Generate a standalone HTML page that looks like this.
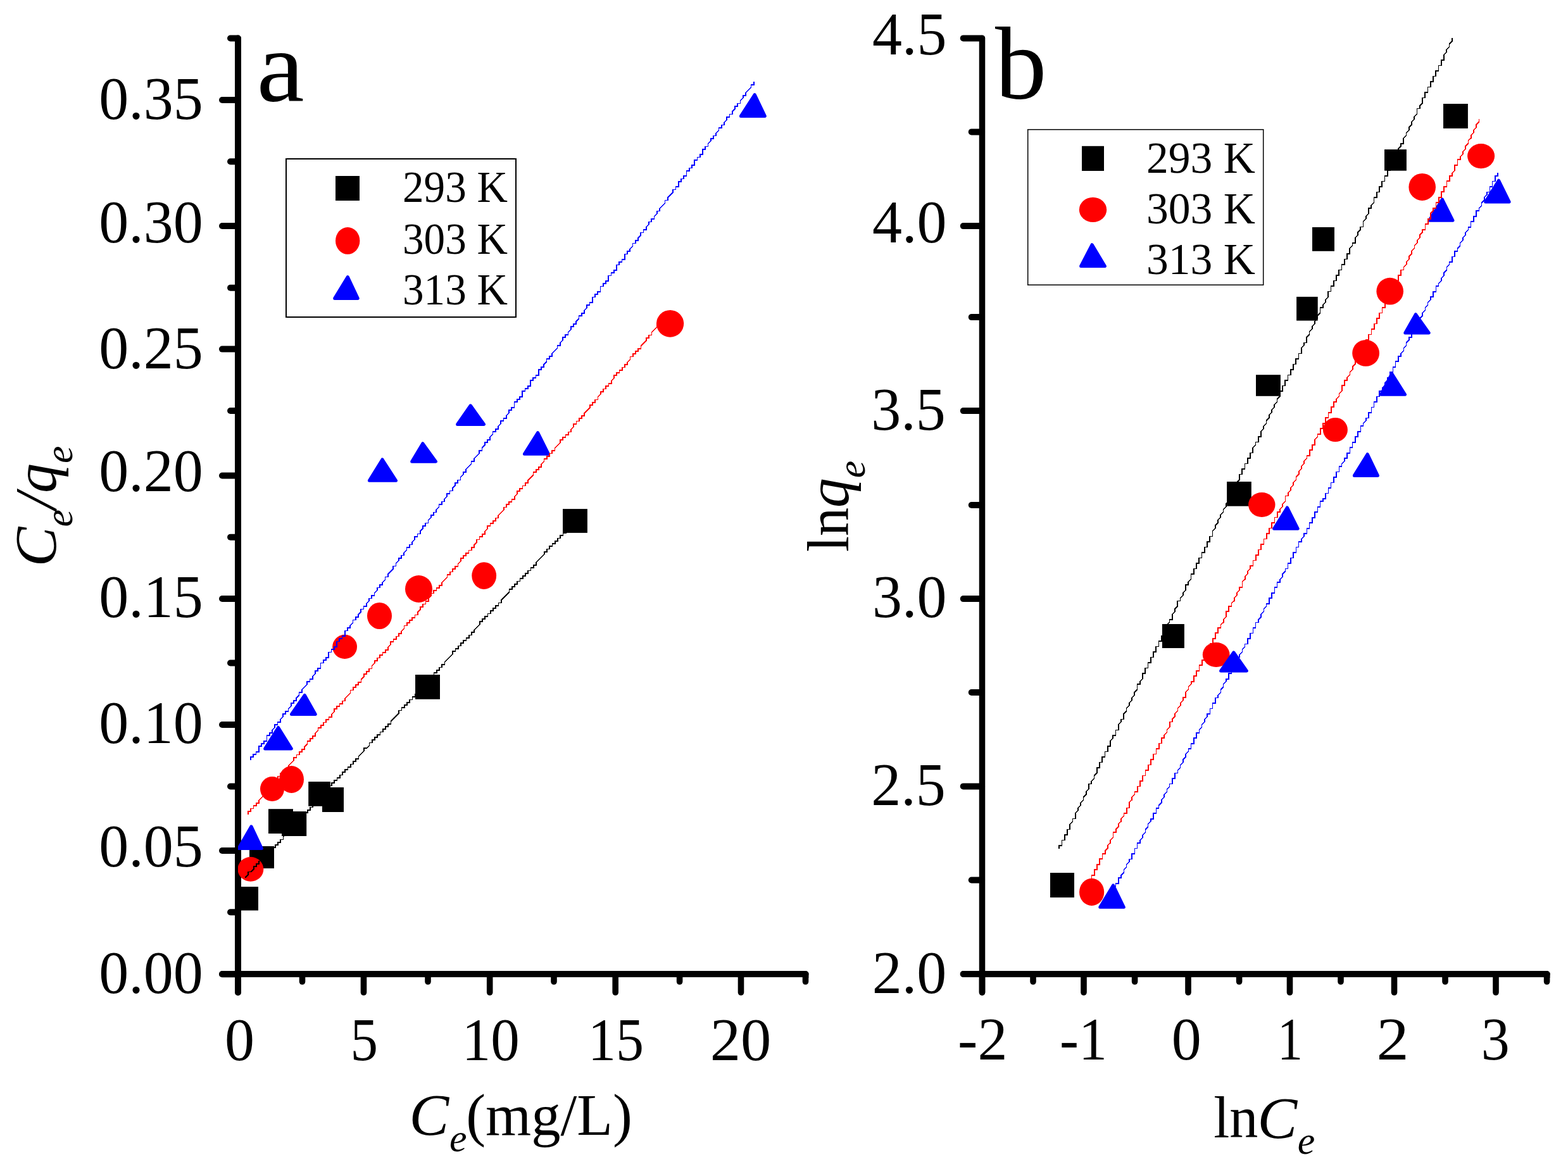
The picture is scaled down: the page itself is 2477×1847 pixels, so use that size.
<!DOCTYPE html>
<html lang="en"><head><meta charset="utf-8"><title>Adsorption isotherm fits</title>
<style>html,body{margin:0;padding:0;background:#fff}body{width:2477px;height:1847px;overflow:hidden}svg{display:block}text{font-family:'Liberation Serif', serif;fill:#000}</style>
</head><body>
<svg width="2477" height="1847" viewBox="0 0 2477 1847">
<rect x="0" y="0" width="2477" height="1847" fill="#fff"/>
<defs><clipPath id="clipA"><rect x="376" y="0" width="1000" height="1600"/></clipPath></defs>
<g>
<line x1="376" y1="60.5" x2="376" y2="1568.0" stroke="#000" stroke-width="10" stroke-linecap="round" />
<line x1="351.0" y1="1539" x2="1272.5" y2="1539" stroke="#000" stroke-width="10" stroke-linecap="round" />
<line x1="375.8" y1="158" x2="351.0" y2="158" stroke="#000" stroke-width="10" stroke-linecap="round" />
<line x1="375.8" y1="357" x2="351.0" y2="357" stroke="#000" stroke-width="10" stroke-linecap="round" />
<line x1="375.8" y1="551.6" x2="351.0" y2="551.6" stroke="#000" stroke-width="10" stroke-linecap="round" />
<line x1="375.8" y1="751.5" x2="351.0" y2="751.5" stroke="#000" stroke-width="10" stroke-linecap="round" />
<line x1="375.8" y1="946" x2="351.0" y2="946" stroke="#000" stroke-width="10" stroke-linecap="round" />
<line x1="375.8" y1="1145" x2="351.0" y2="1145" stroke="#000" stroke-width="10" stroke-linecap="round" />
<line x1="375.8" y1="1344" x2="351.0" y2="1344" stroke="#000" stroke-width="10" stroke-linecap="round" />
<line x1="375.8" y1="1539.2" x2="351.0" y2="1539.2" stroke="#000" stroke-width="10" stroke-linecap="round" />
<line x1="375.8" y1="60.5" x2="364.0" y2="60.5" stroke="#000" stroke-width="10" stroke-linecap="round" />
<line x1="375.8" y1="255.3" x2="364.0" y2="255.3" stroke="#000" stroke-width="10" stroke-linecap="round" />
<line x1="375.8" y1="454.7" x2="364.0" y2="454.7" stroke="#000" stroke-width="10" stroke-linecap="round" />
<line x1="375.8" y1="649" x2="364.0" y2="649" stroke="#000" stroke-width="10" stroke-linecap="round" />
<line x1="375.8" y1="848.7" x2="364.0" y2="848.7" stroke="#000" stroke-width="10" stroke-linecap="round" />
<line x1="375.8" y1="1047.5" x2="364.0" y2="1047.5" stroke="#000" stroke-width="10" stroke-linecap="round" />
<line x1="375.8" y1="1242.5" x2="364.0" y2="1242.5" stroke="#000" stroke-width="10" stroke-linecap="round" />
<line x1="375.8" y1="1441.3" x2="364.0" y2="1441.3" stroke="#000" stroke-width="10" stroke-linecap="round" />
<line x1="376" y1="1539" x2="376" y2="1568.0" stroke="#000" stroke-width="9.6" stroke-linecap="round" />
<line x1="574.5" y1="1539" x2="574.5" y2="1568.0" stroke="#000" stroke-width="9.6" stroke-linecap="round" />
<line x1="773.7" y1="1539" x2="773.7" y2="1568.0" stroke="#000" stroke-width="9.6" stroke-linecap="round" />
<line x1="972.2" y1="1539" x2="972.2" y2="1568.0" stroke="#000" stroke-width="9.6" stroke-linecap="round" />
<line x1="1170.5" y1="1539" x2="1170.5" y2="1568.0" stroke="#000" stroke-width="9.6" stroke-linecap="round" />
<line x1="477.5" y1="1539" x2="477.5" y2="1551.0" stroke="#000" stroke-width="9.6" stroke-linecap="round" />
<line x1="676" y1="1539" x2="676" y2="1551.0" stroke="#000" stroke-width="9.6" stroke-linecap="round" />
<line x1="875" y1="1539" x2="875" y2="1551.0" stroke="#000" stroke-width="9.6" stroke-linecap="round" />
<line x1="1073.6" y1="1539" x2="1073.6" y2="1551.0" stroke="#000" stroke-width="9.6" stroke-linecap="round" />
<line x1="1272.5" y1="1539" x2="1272.5" y2="1551.0" stroke="#000" stroke-width="9.6" stroke-linecap="round" />
<rect x="1272.5" y="1537" width="4.8" height="8" fill="#000"/>
<rect x="374" y="57.5" width="5.8" height="6" fill="#000"/>
</g>
<g clip-path="url(#clipA)">
<rect x="369" y="1401" width="39" height="37.5" fill="#000"/>
<rect x="394" y="1337" width="39" height="35" fill="#000"/>
<rect x="424" y="1278.2" width="39" height="38.8" fill="#000"/>
<rect x="445" y="1282" width="39.2" height="39" fill="#000"/>
<rect x="487.2" y="1235" width="34.8" height="38.8" fill="#000"/>
<rect x="509" y="1244" width="34" height="39" fill="#000"/>
<rect x="656" y="1066" width="39" height="38.8" fill="#000"/>
<rect x="889" y="804.1" width="38.9" height="37.8" fill="#000"/>
<ellipse cx="395.9" cy="1373.3" rx="20.4" ry="19.4" fill="#f00"/>
<ellipse cx="430.0" cy="1246.5" rx="19.0" ry="19.5" fill="#f00"/>
<ellipse cx="460.5" cy="1231.5" rx="19.5" ry="21.5" fill="#f00"/>
<ellipse cx="544.6" cy="1021.9" rx="19.4" ry="19.1" fill="#f00"/>
<ellipse cx="599.5" cy="973.0" rx="19.5" ry="21.0" fill="#f00"/>
<ellipse cx="661.5" cy="930.5" rx="21.5" ry="21.5" fill="#f00"/>
<ellipse cx="764.7" cy="909.6" rx="19.4" ry="21.4" fill="#f00"/>
<ellipse cx="1058.6" cy="511.3" rx="21.6" ry="21.4" fill="#f00"/>
<polygon points="397,1305.8 413.4,1340.5 376.8,1340.5" fill="#00f" stroke="#00f" stroke-width="5.0" stroke-linejoin="round"/>
<polygon points="439.6,1149.5 460.3,1182.9 418.7,1182.9" fill="#00f" stroke="#00f" stroke-width="5.0" stroke-linejoin="round"/>
<polygon points="481.3,1098.5 498.2,1128.5 460.5,1128.5" fill="#00f" stroke="#00f" stroke-width="5.0" stroke-linejoin="round"/>
<polygon points="604,726.0 625.5,759.3 583.4,759.3" fill="#00f" stroke="#00f" stroke-width="5.0" stroke-linejoin="round"/>
<polygon points="667.8,700.7 688.4,729.3 650.7,729.3" fill="#00f" stroke="#00f" stroke-width="5.0" stroke-linejoin="round"/>
<polygon points="743.3,640.8 764.5,670.4 722.6,670.4" fill="#00f" stroke="#00f" stroke-width="5.0" stroke-linejoin="round"/>
<polygon points="849.6,683.7 866.4,717.3 828.4,717.3" fill="#00f" stroke="#00f" stroke-width="5.0" stroke-linejoin="round"/>
<polygon points="1192.2,149.7 1208.3,183.4 1170.4,183.4" fill="#00f" stroke="#00f" stroke-width="5.0" stroke-linejoin="round"/>
<path d="M388 1386 392.2 1381.8 392.2 1377.5 396.5 1377.5 400.8 1373.2 400.8 1369 405 1369 405 1364.8 409.2 1364.8 409.2 1360.5 413.5 1360.5 413.5 1356.2 417.8 1356.2 417.8 1352 422 1352 422 1347.8 426.2 1347.8 426.2 1343.5 430.5 1343.5 430.5 1339.2 434.8 1339.2 434.8 1335 439 1335 439 1330.8 443.2 1330.8 443.2 1326.5 447.5 1326.5 447.5 1322.2 451.8 1318 451.8 1313.8 456 1313.8 460.2 1309.5 460.2 1305.2 464.5 1305.2 464.5 1301 468.8 1301 468.8 1296.8 473 1296.8 473 1292.5 477.2 1292.5 477.2 1288.2 481.5 1288.2 481.5 1284 485.8 1284 485.8 1279.8 490 1279.8 490 1275.5 494.2 1275.5 494.2 1271.2 498.5 1271.2 498.5 1267 502.8 1262.8 507 1262.8 507 1258.5 511.2 1254.2 519.8 1245.8 519.8 1241.5 524 1241.5 524 1237.2 528.2 1237.2 528.2 1233 532.5 1233 532.5 1228.8 536.8 1228.8 536.8 1224.5 541 1224.5 541 1220.2 545.2 1220.2 545.2 1216 549.5 1216 549.5 1211.8 553.8 1211.8 553.8 1207.5 558 1207.5 558 1203.2 562.2 1203.2 562.2 1199 566.5 1199 566.5 1194.8 570.8 1190.5 575 1186.2 575 1182 579.2 1182 583.5 1177.8 583.5 1173.5 587.8 1173.5 587.8 1169.2 592 1169.2 592 1165 596.2 1165 596.2 1160.8 600.5 1160.8 600.5 1156.5 604.8 1156.5 604.8 1152.2 609 1152.2 609 1148 613.2 1148 613.2 1143.8 617.5 1143.8 617.5 1139.5 630.2 1126.8 630.2 1122.5 634.5 1122.5 634.5 1118.2 638.8 1118.2 638.8 1114 643 1114 643 1109.8 647.2 1109.8 647.2 1105.5 651.5 1105.5 651.5 1101.2 655.8 1101.2 655.8 1097 660 1097 660 1092.8 664.2 1088.5 664.2 1084.2 668.5 1084.2 672.8 1080 672.8 1075.8 677 1075.8 677 1071.5 681.2 1071.5 681.2 1067.2 685.5 1067.2 685.5 1063 689.8 1063 689.8 1058.8 694 1058.8 694 1054.5 698.2 1054.5 698.2 1050.2 702.5 1050.2 702.5 1046 706.8 1041.8 715.2 1033.2 715.2 1029 719.5 1029 719.5 1024.8 723.8 1024.8 723.8 1020.5 728 1020.5 728 1016.2 732.2 1016.2 732.2 1012 736.5 1012 736.5 1007.8 740.8 1007.8 740.8 1003.5 745 1003.5 745 999.2 749.2 999.2 749.2 995 753.5 990.8 757.8 986.5 757.8 982.2 762 982.2 762 978 766.2 978 766.2 973.8 770.5 973.8 770.5 969.5 774.8 969.5 774.8 965.2 779 965.2 779 961 783.2 961 783.2 956.8 787.5 956.8 787.5 952.5 791.8 952.5 791.8 948.2 804.5 935.5 804.5 931.2 808.8 931.2 808.8 927 813 927 813 922.8 817.2 922.8 817.2 918.5 821.5 918.5 821.5 914.2 825.8 914.2 825.8 910 830 910 830 905.8 834.2 905.8 834.2 901.5 838.5 901.5 838.5 897.2 842.8 897.2 842.8 893 847 893 847 888.8 851.2 884.5 855.5 880.2 859.8 876 859.8 871.8 864 871.8 864 867.5 868.2 867.5 868.2 863.2 872.5 863.2 872.5 859 876.8 859 876.8 854.8 881 854.8 881 850.5 885.2 850.5 885.2 846.2 889.5 846.2 889.5 842 893.8 842 893.8 837.8 898 837.8 898 833.5 902.2 833.5 902.2 829.2 906.5 825" fill="none" stroke="#000" stroke-width="1.6" stroke-linejoin="miter" stroke-linecap="square" shape-rendering="crispEdges"/>
<path d="M392 1286 392 1281.8 396.2 1281.8 396.2 1277.5 400.5 1277.5 400.5 1273.2 404.8 1273.2 404.8 1269 409 1269 409 1264.8 413.2 1260.5 417.5 1256.2 417.5 1252 421.8 1252 421.8 1247.8 426 1247.8 426 1243.5 430.2 1243.5 430.2 1239.2 434.5 1239.2 434.5 1235 438.8 1230.8 438.8 1226.5 443 1226.5 443 1222.2 447.2 1222.2 447.2 1218 451.5 1218 451.5 1213.8 455.8 1213.8 455.8 1209.5 460 1205.2 464.2 1201 464.2 1196.8 468.5 1196.8 468.5 1192.5 472.8 1192.5 472.8 1188.2 477 1188.2 477 1184 481.2 1184 481.2 1179.8 485.5 1175.5 485.5 1171.2 489.8 1171.2 489.8 1167 494 1167 494 1162.8 498.2 1162.8 498.2 1158.5 502.5 1154.2 502.5 1150 506.8 1150 506.8 1145.8 511 1145.8 511 1141.5 515.2 1141.5 515.2 1137.2 519.5 1137.2 519.5 1133 523.8 1133 523.8 1128.8 528 1124.5 528 1120.2 532.2 1120.2 532.2 1116 536.5 1116 536.5 1111.8 540.8 1111.8 540.8 1107.5 545 1107.5 545 1103.2 549.2 1099 553.5 1094.8 553.5 1090.5 557.8 1090.5 557.8 1086.2 562 1086.2 562 1082 566.2 1082 566.2 1077.8 570.5 1077.8 570.5 1073.5 574.8 1069.2 574.8 1065 579 1065 579 1060.8 583.2 1060.8 583.2 1056.5 587.5 1056.5 587.5 1052.2 591.8 1048 591.8 1043.8 596 1043.8 596 1039.5 600.2 1039.5 600.2 1035.2 604.5 1035.2 604.5 1031 608.8 1031 608.8 1026.8 613 1026.8 613 1022.5 617.2 1018.2 617.2 1014 621.5 1014 621.5 1009.8 625.8 1009.8 625.8 1005.5 630 1005.5 630 1001.2 634.2 1001.2 634.2 997 638.5 992.8 638.5 988.5 642.8 988.5 642.8 984.2 647 984.2 647 980 651.2 980 651.2 975.8 655.5 975.8 655.5 971.5 659.8 971.5 659.8 967.2 664 963 664 958.8 668.2 958.8 668.2 954.5 672.5 954.5 672.5 950.2 676.8 950.2 676.8 946 681 941.8 681 937.5 685.2 937.5 685.2 933.2 689.5 933.2 689.5 929 693.8 929 693.8 924.8 698 924.8 698 920.5 702.2 916.2 706.5 912 706.5 907.8 710.8 907.8 710.8 903.5 715 903.5 715 899.2 719.2 899.2 719.2 895 723.5 895 723.5 890.8 727.8 886.5 727.8 882.2 732 882.2 732 878 736.2 878 736.2 873.8 740.5 873.8 740.5 869.5 744.8 869.5 744.8 865.2 749 865.2 749 861 753.2 856.8 753.2 852.5 757.5 852.5 757.5 848.2 761.8 848.2 761.8 844 766 844 766 839.8 770.2 835.5 770.2 831.2 774.5 831.2 774.5 827 778.8 827 778.8 822.8 783 822.8 783 818.5 787.2 818.5 787.2 814.2 795.8 805.8 795.8 801.5 800 801.5 800 797.2 804.2 797.2 804.2 793 808.5 793 808.5 788.8 812.8 788.8 812.8 784.5 817 780.2 817 776 821.2 776 821.2 771.8 825.5 771.8 825.5 767.5 829.8 767.5 829.8 763.2 834 763.2 834 759 842.5 750.5 842.5 746.2 846.8 746.2 846.8 742 851 742 851 737.8 855.2 737.8 855.2 733.5 859.5 729.2 859.5 725 863.8 725 863.8 720.8 868 720.8 868 716.5 872.2 716.5 872.2 712.2 876.5 712.2 876.5 708 880.8 703.8 885 699.5 885 695.2 889.2 695.2 889.2 691 893.5 691 893.5 686.8 897.8 686.8 897.8 682.5 902 682.5 902 678.2 906.2 674 906.2 669.8 910.5 669.8 910.5 665.5 914.8 665.5 914.8 661.2 919 661.2 919 657 923.2 657 923.2 652.8 931.8 644.2 931.8 640 936 640 936 635.8 940.2 635.8 940.2 631.5 944.5 631.5 944.5 627.2 948.8 623 948.8 618.8 953 618.8 953 614.5 957.2 614.5 957.2 610.2 961.5 610.2 961.5 606 965.8 606 965.8 601.8 970 597.5 970 593.2 974.2 593.2 974.2 589 978.5 589 978.5 584.8 982.8 584.8 982.8 580.5 987 580.5 987 576.2 991.2 576.2 991.2 572 995.5 567.8 995.5 563.5 999.8 563.5 999.8 559.2 1004 559.2 1004 555 1008.2 555 1008.2 550.8 1012.5 550.8 1012.5 546.5 1021 538 1021 533.8 1025.2 533.8 1025.2 529.5 1029.5 529.5 1029.5 525.2 1033.8 521 1038 516.8 1038 512.5 1042.2 512.5 1042.2 508.2 1046.5 508.2 1046.5 504 1050.8 504 1050.8 499.8 1055 499.8 1055 495.5 1059.2 491.2" fill="none" stroke="#f00" stroke-width="1.6" stroke-linejoin="miter" stroke-linecap="square" shape-rendering="crispEdges"/>
<path d="M396 1200.5 396 1196.2 400.2 1196.2 400.2 1192 404.5 1192 404.5 1187.8 408.8 1187.8 408.8 1179.2 413 1179.2 413 1175 417.2 1175 417.2 1170.8 421.5 1170.8 421.5 1162.2 425.8 1162.2 425.8 1158 430 1158 430 1153.8 434.2 1149.5 434.2 1145.2 438.5 1145.2 438.5 1141 442.8 1141 442.8 1136.8 447 1132.5 447 1128.2 451.2 1128.2 451.2 1124 455.5 1124 455.5 1119.8 459.8 1115.5 459.8 1111.2 464 1111.2 464 1107 468.2 1107 468.2 1102.8 472.5 1098.5 472.5 1094.2 476.8 1094.2 476.8 1090 481 1085.8 485.2 1081.5 485.2 1077.2 489.5 1077.2 489.5 1073 493.8 1073 493.8 1068.8 498 1064.5 498 1060.2 502.2 1060.2 502.2 1056 506.5 1056 506.5 1047.5 510.8 1047.5 510.8 1043.2 515 1043.2 515 1039 519.2 1039 519.2 1030.5 523.5 1030.5 523.5 1026.2 527.8 1026.2 527.8 1022 532 1022 532 1013.5 536.2 1013.5 536.2 1009.2 540.5 1009.2 540.5 1005 544.8 1005 544.8 996.5 549 996.5 549 992.2 553.2 992.2 553.2 988 557.5 983.8 557.5 979.5 561.8 979.5 561.8 975.2 566 975.2 566 971 570.2 966.8 570.2 962.5 574.5 962.5 574.5 958.2 578.8 958.2 578.8 954 583 949.8 583 945.5 587.2 945.5 587.2 941.2 591.5 941.2 591.5 937 595.8 932.8 595.8 928.5 600 928.5 600 924.2 604.2 924.2 604.2 920 608.5 915.8 608.5 911.5 612.8 911.5 612.8 907.2 621.2 898.8 621.2 894.5 625.5 894.5 625.5 890.2 629.8 886 629.8 881.8 634 881.8 634 877.5 638.2 877.5 638.2 873.2 642.5 869 642.5 864.8 646.8 864.8 646.8 860.5 651 860.5 651 856.2 655.2 852 655.2 847.8 659.5 847.8 659.5 843.5 663.8 843.5 663.8 839.2 668 835 668 830.8 672.2 830.8 672.2 826.5 676.5 826.5 676.5 822.2 680.8 818 680.8 813.8 685 813.8 685 809.5 689.2 809.5 689.2 805.2 693.5 801 693.5 796.8 697.8 796.8 697.8 792.5 702 792.5 702 788.2 706.2 784 706.2 779.8 710.5 779.8 710.5 775.5 714.8 775.5 714.8 771.2 719 767 719 762.8 723.2 762.8 723.2 758.5 727.5 758.5 727.5 754.2 731.8 750 731.8 745.8 736 745.8 736 741.5 740.2 737.2 744.5 733 744.5 728.8 748.8 728.8 748.8 724.5 753 720.2 757.2 716 757.2 711.8 761.5 711.8 761.5 707.5 765.8 703.2 765.8 699 770 699 770 694.8 774.2 694.8 774.2 690.5 778.5 686.2 778.5 682 782.8 682 782.8 677.8 787 677.8 787 673.5 791.2 669.2 791.2 665 795.5 665 795.5 660.8 799.8 660.8 799.8 656.5 804 652.2 804 648 808.2 648 808.2 643.8 812.5 643.8 812.5 635.2 816.8 635.2 816.8 631 821 631 821 626.8 825.2 626.8 825.2 618.2 829.5 618.2 829.5 614 833.8 614 833.8 609.8 838 609.8 838 601.2 842.2 601.2 842.2 597 846.5 597 846.5 592.8 850.8 592.8 850.8 584.2 855 584.2 855 580 859.2 580 859.2 575.8 863.5 571.5 863.5 567.2 867.8 567.2 867.8 563 872 563 872 558.8 876.2 554.5 880.5 550.2 880.5 546 884.8 546 884.8 541.8 889 537.5 889 533.2 893.2 533.2 893.2 529 897.5 529 897.5 524.8 901.8 520.5 901.8 516.2 906 516.2 906 512 910.2 512 910.2 507.8 914.5 503.5 914.5 499.2 918.8 499.2 918.8 495 923 495 923 490.8 927.2 486.5 927.2 482.2 931.5 482.2 931.5 478 935.8 478 935.8 469.5 940 469.5 940 465.2 944.2 465.2 944.2 461 948.5 461 948.5 452.5 952.8 452.5 952.8 448.2 957 448.2 957 444 961.2 444 961.2 435.5 965.5 435.5 965.5 431.2 969.8 431.2 969.8 427 974 427 974 418.5 978.2 418.5 978.2 414.2 982.5 414.2 982.5 410 986.8 410 986.8 401.5 991 401.5 991 397.2 995.2 397.2 995.2 393 999.5 388.8 999.5 384.5 1003.8 384.5 1003.8 380.2 1008 380.2 1008 376 1012.2 371.8 1012.2 367.5 1016.5 367.5 1016.5 363.2 1020.8 363.2 1020.8 359 1025 354.8 1025 350.5 1029.2 350.5 1029.2 346.2 1033.5 346.2 1033.5 342 1037.8 337.8 1037.8 333.5 1042 333.5 1042 329.2 1046.2 325 1050.5 320.8 1050.5 316.5 1054.8 316.5 1054.8 312.2 1063.2 303.8 1063.2 299.5 1067.5 299.5 1067.5 295.2 1071.8 295.2 1071.8 286.8 1076 286.8 1076 282.5 1080.2 282.5 1080.2 278.2 1084.5 278.2 1084.5 269.8 1088.8 269.8 1088.8 265.5 1093 265.5 1093 261.2 1097.2 261.2 1097.2 252.8 1101.5 252.8 1101.5 248.5 1105.8 248.5 1105.8 244.2 1110 244.2 1110 235.8 1114.2 235.8 1114.2 231.5 1118.5 231.5 1118.5 227.2 1122.8 223 1122.8 218.8 1127 218.8 1127 214.5 1131.2 214.5 1131.2 210.2 1135.5 206 1135.5 201.8 1139.8 201.8 1139.8 197.5 1144 197.5 1144 193.2 1148.2 189 1148.2 184.8 1152.5 184.8 1152.5 180.5 1156.8 180.5 1156.8 176.2 1161 172 1161 167.8 1165.2 167.8 1165.2 163.5 1169.5 163.5 1169.5 159.2 1173.8 155 1173.8 150.8 1178 150.8 1178 146.5 1182.2 142.2 1186.5 138 1186.5 133.8 1190.8 133.8 1190.8 129.5" fill="none" stroke="#00f" stroke-width="1.6" stroke-linejoin="miter" stroke-linecap="square" shape-rendering="crispEdges"/>
</g>
<g>
<line x1="1551.5" y1="60.4" x2="1551.5" y2="1568.0" stroke="#000" stroke-width="9.5" stroke-linecap="round" />
<line x1="1521.75" y1="1539" x2="2443.6" y2="1539" stroke="#000" stroke-width="10" stroke-linecap="round" />
<line x1="1551.05" y1="60.4" x2="1521.75" y2="60.4" stroke="#000" stroke-width="10" stroke-linecap="round" />
<line x1="1551.05" y1="357.1" x2="1521.75" y2="357.1" stroke="#000" stroke-width="10" stroke-linecap="round" />
<line x1="1551.05" y1="649.1" x2="1521.75" y2="649.1" stroke="#000" stroke-width="10" stroke-linecap="round" />
<line x1="1551.05" y1="946.1" x2="1521.75" y2="946.1" stroke="#000" stroke-width="10" stroke-linecap="round" />
<line x1="1551.05" y1="1242.4" x2="1521.75" y2="1242.4" stroke="#000" stroke-width="10" stroke-linecap="round" />
<line x1="1551.05" y1="1539" x2="1521.75" y2="1539" stroke="#000" stroke-width="10" stroke-linecap="round" />
<line x1="1551.05" y1="208.4" x2="1534.75" y2="208.4" stroke="#000" stroke-width="10" stroke-linecap="round" />
<line x1="1551.05" y1="501.1" x2="1534.75" y2="501.1" stroke="#000" stroke-width="10" stroke-linecap="round" />
<line x1="1551.05" y1="798" x2="1534.75" y2="798" stroke="#000" stroke-width="10" stroke-linecap="round" />
<line x1="1551.05" y1="1094" x2="1534.75" y2="1094" stroke="#000" stroke-width="10" stroke-linecap="round" />
<line x1="1551.05" y1="1390.5" x2="1534.75" y2="1390.5" stroke="#000" stroke-width="10" stroke-linecap="round" />
<line x1="1551.5" y1="1539" x2="1551.5" y2="1568.0" stroke="#000" stroke-width="9.6" stroke-linecap="round" />
<line x1="1712" y1="1539" x2="1712" y2="1568.0" stroke="#000" stroke-width="9.6" stroke-linecap="round" />
<line x1="1877" y1="1539" x2="1877" y2="1568.0" stroke="#000" stroke-width="9.6" stroke-linecap="round" />
<line x1="2037.5" y1="1539" x2="2037.5" y2="1568.0" stroke="#000" stroke-width="9.6" stroke-linecap="round" />
<line x1="2202.5" y1="1539" x2="2202.5" y2="1568.0" stroke="#000" stroke-width="9.6" stroke-linecap="round" />
<line x1="2363" y1="1539" x2="2363" y2="1568.0" stroke="#000" stroke-width="9.6" stroke-linecap="round" />
<line x1="1632" y1="1539" x2="1632" y2="1551.0" stroke="#000" stroke-width="9.6" stroke-linecap="round" />
<line x1="1792.6" y1="1539" x2="1792.6" y2="1551.0" stroke="#000" stroke-width="9.6" stroke-linecap="round" />
<line x1="1957.6" y1="1539" x2="1957.6" y2="1551.0" stroke="#000" stroke-width="9.6" stroke-linecap="round" />
<line x1="2118" y1="1539" x2="2118" y2="1551.0" stroke="#000" stroke-width="9.6" stroke-linecap="round" />
<line x1="2283" y1="1539" x2="2283" y2="1551.0" stroke="#000" stroke-width="9.6" stroke-linecap="round" />
<line x1="2443.6" y1="1539" x2="2443.6" y2="1551.0" stroke="#000" stroke-width="9.6" stroke-linecap="round" />
<rect x="2443.6" y="1537" width="4.8" height="8" fill="#000"/>
<rect x="1549.5" y="57.4" width="5.5" height="6" fill="#000"/>
</g>
<g>
<rect x="1659" y="1379" width="38" height="39" fill="#000"/>
<rect x="1835.9" y="986" width="35.0" height="38" fill="#000"/>
<rect x="1938.1" y="761" width="38.7" height="38.7" fill="#000"/>
<rect x="1984" y="592.2" width="38.9" height="33.6" fill="#000"/>
<rect x="2048.1" y="468.9" width="33.6" height="37.7" fill="#000"/>
<rect x="2073" y="359" width="35" height="37.8" fill="#000"/>
<rect x="2187" y="236.1" width="34.9" height="33.6" fill="#000"/>
<rect x="2280" y="164" width="38.9" height="38.9" fill="#000"/>
<ellipse cx="1724.6" cy="1409.4" rx="19.6" ry="21.6" fill="#f00"/>
<ellipse cx="1921.2" cy="1034.4" rx="21.4" ry="19.5" fill="#f00"/>
<ellipse cx="1993.3" cy="797.5" rx="21.2" ry="19.6" fill="#f00"/>
<ellipse cx="2109.4" cy="679.0" rx="19.5" ry="19.1" fill="#f00"/>
<ellipse cx="2157.6" cy="557.9" rx="21.4" ry="20.9" fill="#f00"/>
<ellipse cx="2195.7" cy="460.2" rx="21.3" ry="21.4" fill="#f00"/>
<ellipse cx="2246.7" cy="295.4" rx="21.3" ry="21.5" fill="#f00"/>
<ellipse cx="2339.6" cy="246.6" rx="21.5" ry="19.6" fill="#f00"/>
<polygon points="1758.6,1398.8 1775.3,1433.3 1737.8,1433.3" fill="#00f" stroke="#00f" stroke-width="5.0" stroke-linejoin="round"/>
<polygon points="1948.8,1030.8 1969.3,1060.0 1928.6,1060.0" fill="#00f" stroke="#00f" stroke-width="5.0" stroke-linejoin="round"/>
<polygon points="2033.4,802.0 2050.2,835.3 2012.6,835.3" fill="#00f" stroke="#00f" stroke-width="5.0" stroke-linejoin="round"/>
<polygon points="2160.2,717.7 2176.4,751.4 2139.4,751.4" fill="#00f" stroke="#00f" stroke-width="5.0" stroke-linejoin="round"/>
<polygon points="2198.7,590.4 2219.5,623.3 2181.5,623.3" fill="#00f" stroke="#00f" stroke-width="5.0" stroke-linejoin="round"/>
<polygon points="2236.4,496.7 2257.2,525.9 2219.8,525.9" fill="#00f" stroke="#00f" stroke-width="5.0" stroke-linejoin="round"/>
<polygon points="2278.4,315.0 2295.0,348.3 2257.9,348.3" fill="#00f" stroke="#00f" stroke-width="5.0" stroke-linejoin="round"/>
<polygon points="2367.5,285.2 2384.1,318.9 2346.7,318.9" fill="#00f" stroke="#00f" stroke-width="5.0" stroke-linejoin="round"/>
<path d="M1673.2 1340.3 1673.2 1336 1677.5 1336 1677.5 1327.5 1681.7 1327.5 1681.7 1319 1686 1319 1686 1310.5 1690.2 1310.5 1690.2 1302 1694.5 1297.8 1694.5 1293.5 1698.7 1293.5 1698.7 1285 1703 1280.8 1703 1276.5 1707.2 1272.3 1707.2 1268 1711.5 1263.8 1711.5 1259.5 1715.7 1255.3 1715.7 1251 1720 1246.8 1720 1238.3 1724.2 1238.3 1724.2 1234 1728.5 1229.8 1728.5 1225.5 1732.7 1221.3 1732.7 1212.8 1737 1212.8 1737 1204.3 1741.2 1204.3 1741.2 1195.8 1745.5 1195.8 1745.5 1187.3 1749.7 1187.3 1749.7 1178.8 1754 1178.8 1754 1170.3 1758.2 1166 1758.2 1161.8 1762.5 1161.8 1762.5 1153.3 1766.7 1153.3 1766.7 1144.8 1771 1140.5 1771 1136.3 1775.2 1136.3 1775.2 1127.8 1779.5 1123.5 1779.5 1119.3 1783.7 1115 1783.7 1110.8 1788 1106.5 1788 1102.3 1792.2 1098 1792.2 1093.8 1796.5 1089.5 1796.5 1081 1800.7 1081 1800.7 1076.8 1805 1072.5 1805 1064 1809.2 1064 1809.2 1055.5 1813.5 1055.5 1813.5 1047 1817.7 1047 1817.7 1038.5 1822 1038.5 1822 1030 1826.2 1030 1826.2 1021.5 1830.5 1021.5 1830.5 1013 1834.7 1013 1834.7 1004.5 1839 1004.5 1839 996 1843.2 991.8 1843.2 987.5 1847.5 983.3 1847.5 979 1851.7 979 1851.7 970.5 1856 966.3 1856 962 1860.2 957.8 1860.2 949.3 1864.5 949.3 1864.5 945 1868.7 940.8 1868.7 936.5 1873 932.3 1873 923.8 1877.2 923.8 1877.2 919.5 1881.5 915.3 1881.5 906.8 1885.7 906.8 1885.7 898.3 1890 898.3 1890 889.8 1894.2 889.8 1894.2 881.3 1898.5 881.3 1898.5 872.8 1902.7 872.8 1902.7 864.3 1907 864.3 1907 855.8 1911.2 855.8 1911.2 847.3 1915.5 847.3 1915.5 838.8 1919.7 834.5 1919.7 830.3 1924 826 1924 821.8 1928.2 817.5 1928.2 813.3 1932.5 809 1932.5 804.8 1936.7 800.5 1936.7 796.3 1941 792 1941 787.8 1945.2 783.5 1945.2 775 1949.5 775 1949.5 766.5 1953.7 766.5 1953.7 762.3 1958 758 1958 749.5 1962.2 749.5 1962.2 741 1966.5 741 1966.5 732.5 1970.7 732.5 1970.7 724 1975 724 1975 715.5 1979.2 715.5 1979.2 707 1983.5 702.8 1983.5 698.5 1987.7 698.5 1987.7 690 1992 690 1992 681.5 1996.2 677.3 1996.2 673 2000.5 668.8 2000.5 664.5 2004.7 660.3 2004.7 656 2009 651.8 2009 647.5 2013.2 643.3 2013.2 639 2017.5 634.8 2017.5 630.5 2021.7 626.3 2021.7 617.8 2026 617.8 2026 609.3 2030.2 609.3 2030.2 600.8 2034.5 600.8 2034.5 592.3 2038.7 592.3 2038.7 583.8 2043 583.8 2043 575.3 2047.2 575.3 2047.2 566.8 2051.4 566.8 2051.4 558.3 2055.7 558.3 2055.7 549.8 2059.9 545.5 2059.9 541.3 2064.2 541.3 2064.2 532.8 2068.4 528.5 2068.4 524.3 2072.7 520 2072.7 515.8 2076.9 511.5 2076.9 507.3 2081.2 503 2081.2 498.8 2085.4 494.5 2085.4 486 2089.7 486 2089.7 481.8 2093.9 477.5 2093.9 473.3 2098.2 469 2098.2 460.5 2102.4 460.5 2102.4 452 2106.7 452 2106.7 443.5 2110.9 443.5 2110.9 435 2115.2 435 2115.2 426.5 2119.4 426.5 2119.4 418 2123.7 418 2123.7 409.5 2127.9 409.5 2127.9 401 2132.2 401 2132.2 392.5 2136.4 388.3 2136.4 384 2140.7 384 2140.7 375.5 2144.9 371.3 2144.9 367 2149.2 362.8 2149.2 358.5 2153.4 358.5 2153.4 350 2157.7 345.8 2157.7 341.5 2161.9 337.3 2161.9 328.8 2166.2 328.8 2166.2 324.5 2170.4 320.3 2170.4 311.8 2174.7 311.8 2174.7 303.3 2178.9 303.3 2178.9 294.8 2183.2 294.8 2183.2 286.3 2187.4 286.3 2187.4 277.8 2191.7 277.8 2191.7 269.3 2195.9 269.3 2195.9 260.8 2200.2 260.8 2200.2 252.3 2204.4 252.3 2204.4 243.8 2208.7 239.5 2208.7 235.3 2212.9 231 2212.9 226.8 2217.2 226.8 2217.2 218.3 2221.4 214 2221.4 209.8 2225.7 205.5 2225.7 201.3 2229.9 197 2229.9 192.8 2234.2 188.5 2234.2 184.3 2238.4 180 2238.4 171.5 2242.7 171.5 2242.7 167.3 2246.9 163 2246.9 154.5 2251.2 154.5 2251.2 146 2255.4 146 2255.4 137.5 2259.7 137.5 2259.7 129 2263.9 129 2263.9 120.5 2268.2 120.5 2268.2 112 2272.4 112 2272.4 103.5 2276.7 103.5 2276.7 95 2280.9 95 2280.9 86.5 2285.2 82.3 2285.2 78 2289.4 73.8 2289.4 69.5 2293.7 65.3 2293.7 61" fill="none" stroke="#000" stroke-width="1.6" stroke-linejoin="miter" stroke-linecap="square" shape-rendering="crispEdges"/>
<path d="M1724.4 1386.9 1724.4 1382.7 1728.7 1382.7 1728.7 1374.2 1732.9 1374.2 1732.9 1365.7 1737.2 1365.7 1737.2 1357.2 1741.4 1357.2 1741.4 1348.7 1745.7 1348.7 1745.7 1344.4 1749.9 1340.2 1749.9 1335.9 1754.2 1331.7 1754.2 1327.4 1758.4 1323.2 1758.4 1314.7 1762.7 1314.7 1762.7 1310.4 1766.9 1306.2 1766.9 1301.9 1771.2 1297.7 1771.2 1293.4 1775.4 1289.2 1775.4 1284.9 1779.7 1284.9 1779.7 1276.4 1783.9 1276.4 1783.9 1267.9 1788.2 1263.7 1788.2 1259.4 1792.4 1255.2 1792.4 1250.9 1796.7 1250.9 1796.7 1242.4 1800.9 1242.4 1800.9 1233.9 1805.2 1233.9 1805.2 1225.4 1809.4 1225.4 1809.4 1216.9 1813.7 1216.9 1813.7 1208.4 1817.9 1208.4 1817.9 1199.9 1822.2 1199.9 1822.2 1191.4 1826.4 1191.4 1826.4 1182.9 1830.7 1182.9 1830.7 1174.4 1834.9 1174.4 1834.9 1165.9 1839.2 1165.9 1839.2 1161.7 1843.4 1157.4 1843.4 1153.2 1847.7 1148.9 1847.7 1140.4 1851.9 1140.4 1851.9 1136.2 1856.2 1131.9 1856.2 1127.7 1860.4 1123.4 1860.4 1119.2 1864.7 1114.9 1864.7 1110.7 1868.9 1106.4 1868.9 1102.2 1873.2 1102.2 1873.2 1093.7 1877.4 1089.4 1877.4 1085.2 1881.7 1080.9 1881.7 1076.7 1885.9 1076.7 1885.9 1068.2 1890.2 1068.2 1890.2 1059.7 1894.4 1059.7 1894.4 1051.2 1898.7 1051.2 1898.7 1042.7 1902.9 1042.7 1902.9 1034.2 1907.2 1034.2 1907.2 1025.7 1911.4 1025.7 1911.4 1017.2 1915.7 1017.2 1915.7 1008.7 1919.9 1008.7 1919.9 1000.2 1924.2 1000.2 1924.2 991.7 1928.4 991.7 1928.4 987.4 1932.7 983.2 1932.7 978.9 1936.9 974.7 1936.9 966.2 1941.2 966.2 1941.2 957.7 1945.4 957.7 1945.4 953.4 1949.7 949.2 1949.7 944.9 1953.9 940.7 1953.9 936.4 1958.2 932.2 1958.2 927.9 1962.4 927.9 1962.4 919.4 1966.7 915.2 1966.7 910.9 1970.9 906.7 1970.9 902.4 1975.2 898.2 1975.2 893.9 1979.4 893.9 1979.4 885.4 1983.7 885.4 1983.7 876.9 1987.9 876.9 1987.9 868.4 1992.2 868.4 1992.2 859.9 1996.4 859.9 1996.4 851.4 2000.7 851.4 2000.7 842.9 2004.9 842.9 2004.9 834.4 2009.2 834.4 2009.2 825.9 2013.4 825.9 2013.4 817.4 2017.7 817.4 2017.7 808.9 2021.9 808.9 2021.9 804.7 2026.2 800.4 2026.2 796.2 2030.4 791.9 2030.4 783.4 2034.7 783.4 2034.7 779.2 2038.9 774.9 2038.9 770.7 2043.2 766.4 2043.2 762.2 2047.4 757.9 2047.4 753.7 2051.7 749.4 2051.7 745.2 2055.9 740.9 2055.9 736.7 2060.2 732.4 2060.2 728.2 2064.4 723.9 2064.4 719.7 2068.7 719.7 2068.7 711.2 2072.9 711.2 2072.9 702.7 2077.2 702.7 2077.2 694.2 2081.4 689.9 2081.4 685.7 2085.7 685.7 2085.7 677.2 2089.9 677.2 2089.9 668.7 2094.2 668.7 2094.2 660.2 2098.4 660.2 2098.4 651.7 2102.7 651.7 2102.7 643.2 2106.9 643.2 2106.9 634.7 2111.2 634.7 2111.2 630.4 2115.4 626.2 2115.4 621.9 2119.7 617.7 2119.7 609.2 2123.9 609.2 2123.9 600.7 2128.2 600.7 2128.2 596.4 2132.4 592.2 2132.4 587.9 2136.7 583.7 2136.7 579.4 2140.9 575.2 2140.9 570.9 2145.2 570.9 2145.2 562.4 2149.4 558.2 2149.4 553.9 2153.7 549.7 2153.7 545.4 2157.9 541.2 2157.9 536.9 2162.2 536.9 2162.2 528.4 2166.4 528.4 2166.4 519.9 2170.7 519.9 2170.7 511.4 2174.9 511.4 2174.9 502.9 2179.2 502.9 2179.2 494.4 2183.4 494.4 2183.4 485.9 2187.7 485.9 2187.7 477.4 2191.9 477.4 2191.9 468.9 2196.2 468.9 2196.2 460.4 2200.4 460.4 2200.4 456.2 2204.7 451.9 2204.7 447.7 2208.9 443.4 2208.9 434.9 2213.2 434.9 2213.2 426.4 2217.4 426.4 2217.4 422.2 2221.7 417.9 2221.7 413.7 2225.9 409.4 2225.9 405.2 2230.2 400.9 2230.2 396.7 2234.4 392.4 2234.4 388.2 2238.7 383.9 2238.7 379.7 2242.9 375.4 2242.9 371.2 2247.2 366.9 2247.2 362.7 2251.4 362.7 2251.4 354.2 2255.7 354.2 2255.7 345.7 2259.9 345.7 2259.9 337.2 2264.2 332.9 2264.2 328.7 2268.4 328.7 2268.4 320.2 2272.7 320.2 2272.7 311.7 2276.9 311.7 2276.9 303.2 2281.2 303.2 2281.2 294.7 2285.4 294.7 2285.4 286.2 2289.7 286.2 2289.7 277.7 2293.9 277.7 2293.9 273.4 2298.2 269.2 2298.2 260.7 2302.4 260.7 2302.4 252.2 2306.7 252.2 2306.7 247.9 2310.9 243.7 2310.9 239.4 2315.2 235.2 2315.2 230.9 2319.4 226.7 2319.4 222.4 2323.7 218.2 2323.7 213.9 2327.9 209.7 2327.9 205.4 2332.2 201.2 2332.2 196.9 2336.4 192.7 2336.4 188.4" fill="none" stroke="#f00" stroke-width="1.6" stroke-linejoin="miter" stroke-linecap="square" shape-rendering="crispEdges"/>
<path d="M1762.6 1399.9 1762.6 1395.7 1766.8 1395.7 1766.8 1387.2 1771.1 1387.2 1771.1 1382.9 1775.3 1378.7 1775.3 1374.4 1779.6 1370.2 1779.6 1365.9 1783.8 1361.7 1783.8 1357.4 1788.1 1357.4 1788.1 1348.9 1792.3 1348.9 1792.3 1340.4 1796.6 1340.4 1796.6 1331.9 1800.8 1331.9 1800.8 1327.7 1805.1 1323.4 1805.1 1319.2 1809.3 1314.9 1809.3 1310.7 1813.6 1306.4 1813.6 1302.2 1817.8 1297.9 1817.8 1293.7 1822.1 1293.7 1822.1 1285.2 1826.3 1285.2 1826.3 1276.7 1830.6 1276.7 1830.6 1272.4 1834.8 1268.2 1834.8 1263.9 1839.1 1259.7 1839.1 1255.4 1843.3 1251.2 1843.3 1246.9 1847.6 1242.7 1847.6 1238.4 1851.8 1238.4 1851.8 1229.9 1856.1 1229.9 1856.1 1221.4 1860.3 1221.4 1860.3 1217.2 1864.6 1212.9 1864.6 1208.7 1868.8 1204.4 1868.8 1200.2 1873.1 1195.9 1873.1 1191.7 1877.3 1187.4 1877.3 1183.2 1881.6 1183.2 1881.6 1174.7 1885.8 1174.7 1885.8 1166.2 1890.1 1166.2 1890.1 1157.7 1894.3 1157.7 1894.3 1153.4 1898.6 1149.2 1898.6 1144.9 1902.8 1140.7 1902.8 1136.4 1907.1 1132.2 1907.1 1127.9 1911.3 1127.9 1911.3 1119.4 1915.6 1119.4 1915.6 1110.9 1919.8 1110.9 1919.8 1102.4 1924.1 1102.4 1924.1 1098.2 1928.3 1093.9 1928.3 1089.7 1932.6 1085.4 1932.6 1081.2 1936.8 1076.9 1936.8 1072.7 1941.1 1072.7 1941.1 1064.2 1945.3 1064.2 1945.3 1055.7 1949.6 1055.7 1949.6 1047.2 1953.8 1047.2 1953.8 1042.9 1958.1 1038.7 1958.1 1034.4 1962.3 1030.2 1962.3 1025.9 1966.6 1021.7 1966.6 1017.4 1970.8 1017.4 1970.8 1008.9 1975.1 1008.9 1975.1 1000.4 1979.3 1000.4 1979.3 991.9 1983.6 991.9 1983.6 983.4 1987.8 983.4 1987.8 979.2 1992.1 974.9 1992.1 970.7 1996.3 966.4 1996.3 962.2 2000.6 957.9 2000.6 953.7 2004.8 953.7 2004.8 945.2 2009.1 945.2 2009.1 936.7 2013.3 936.7 2013.3 928.2 2017.6 928.2 2017.6 919.7 2021.8 919.7 2021.8 915.4 2026.1 911.2 2026.1 906.9 2030.3 902.7 2030.3 898.4 2034.6 898.4 2034.6 889.9 2038.8 889.9 2038.8 881.4 2043.1 881.4 2043.1 872.9 2047.3 872.9 2047.3 864.4 2051.6 864.4 2051.6 855.9 2055.8 855.9 2055.8 851.7 2060.1 847.4 2060.1 843.2 2064.3 843.2 2064.3 834.7 2068.6 834.7 2068.6 826.2 2072.8 826.2 2072.8 817.7 2077.1 817.7 2077.1 809.2 2081.3 809.2 2081.3 800.7 2085.6 800.7 2085.6 792.2 2089.8 792.2 2089.8 787.9 2094.1 787.9 2094.1 779.4 2098.3 779.4 2098.3 770.9 2102.6 770.9 2102.6 762.4 2106.8 762.4 2106.8 753.9 2111.1 753.9 2111.1 745.4 2115.3 745.4 2115.3 736.9 2119.6 736.9 2119.6 732.7 2123.8 728.4 2123.8 724.2 2128.1 724.2 2128.1 715.7 2132.3 715.7 2132.3 707.2 2136.6 707.2 2136.6 698.7 2140.8 698.7 2140.8 690.2 2145.1 690.2 2145.1 681.7 2149.3 681.7 2149.3 673.2 2153.6 673.2 2153.6 668.9 2157.8 664.7 2157.8 660.4 2162.1 660.4 2162.1 651.9 2166.3 651.9 2166.3 643.4 2170.6 643.4 2170.6 634.9 2174.8 634.9 2174.8 626.4 2179.1 626.4 2179.1 617.9 2183.3 617.9 2183.3 613.7 2187.6 609.4 2187.6 605.2 2191.8 600.9 2191.8 596.7 2196.1 596.7 2196.1 588.2 2200.3 588.2 2200.3 579.7 2204.6 579.7 2204.6 571.2 2208.8 571.2 2208.8 562.7 2213.1 562.7 2213.1 558.4 2217.3 554.2 2217.3 549.9 2221.6 545.7 2221.6 541.4 2225.8 537.2 2225.8 532.9 2230.1 532.9 2230.1 524.4 2234.3 524.4 2234.3 515.9 2238.6 515.9 2238.6 507.4 2242.8 507.4 2242.8 503.2 2247.1 498.9 2247.1 494.7 2251.3 490.4 2251.3 486.2 2255.6 481.9 2255.6 477.7 2259.8 473.4 2259.8 469.2 2264.1 469.2 2264.1 460.7 2268.3 460.7 2268.3 452.2 2272.6 452.2 2272.6 447.9 2276.8 443.7 2276.8 439.4 2281.1 435.2 2281.1 430.9 2285.3 426.7 2285.3 422.4 2289.6 418.2 2289.6 413.9 2293.8 413.9 2293.8 405.4 2298.1 405.4 2298.1 396.9 2302.3 396.9 2302.3 392.7 2306.6 388.4 2306.6 384.2 2310.8 379.9 2310.8 375.7 2315.1 371.4 2315.1 367.2 2319.3 362.9 2319.3 358.7 2323.6 358.7 2323.6 350.2 2327.8 350.2 2327.8 341.7 2332.1 341.7 2332.1 333.2 2336.3 333.2 2336.3 328.9 2340.6 324.7 2340.6 320.4 2344.8 316.2 2344.8 311.9 2349.1 307.7 2349.1 303.4 2353.3 303.4 2353.3 294.9 2357.6 294.9 2357.6 286.4 2361.8 286.4 2361.8 277.9 2366.1 277.9 2366.1 273.7" fill="none" stroke="#00f" stroke-width="1.6" stroke-linejoin="miter" stroke-linecap="square" shape-rendering="crispEdges"/>
</g>
<g>
<text x="156.2" y="188" font-size="95.5" text-anchor="start" textLength="164.5" lengthAdjust="spacingAndGlyphs" >0.35</text>
<text x="156.2" y="383" font-size="95.5" text-anchor="start" textLength="164.5" lengthAdjust="spacingAndGlyphs" >0.30</text>
<text x="156.2" y="582" font-size="95.5" text-anchor="start" textLength="164.5" lengthAdjust="spacingAndGlyphs" >0.25</text>
<text x="156.2" y="776" font-size="95.5" text-anchor="start" textLength="164.5" lengthAdjust="spacingAndGlyphs" >0.20</text>
<text x="156.2" y="975" font-size="95.5" text-anchor="start" textLength="164.5" lengthAdjust="spacingAndGlyphs" >0.15</text>
<text x="156.2" y="1174" font-size="95.5" text-anchor="start" textLength="164.5" lengthAdjust="spacingAndGlyphs" >0.10</text>
<text x="156.2" y="1369" font-size="95.5" text-anchor="start" textLength="164.5" lengthAdjust="spacingAndGlyphs" >0.05</text>
<text x="156.2" y="1569" font-size="95.5" text-anchor="start" textLength="164.5" lengthAdjust="spacingAndGlyphs" >0.00</text>
<text x="355.1" y="1675" font-size="95.5" text-anchor="start" textLength="47" lengthAdjust="spacingAndGlyphs" >0</text>
<text x="553.5" y="1675" font-size="95.5" text-anchor="start" textLength="43.5" lengthAdjust="spacingAndGlyphs" >5</text>
<text x="729.7" y="1675" font-size="95.5" text-anchor="start" textLength="91" lengthAdjust="spacingAndGlyphs" >10</text>
<text x="929" y="1675" font-size="95.5" text-anchor="start" textLength="88" lengthAdjust="spacingAndGlyphs" >15</text>
<text x="1121.8" y="1675" font-size="95.5" text-anchor="start" textLength="96.6" lengthAdjust="spacingAndGlyphs" >20</text>
<text x="1378" y="86" font-size="95.5" text-anchor="start" textLength="117.5" lengthAdjust="spacingAndGlyphs" >4.5</text>
<text x="1378" y="383" font-size="95.5" text-anchor="start" textLength="117.5" lengthAdjust="spacingAndGlyphs" >4.0</text>
<text x="1376.3" y="679" font-size="95.5" text-anchor="start" textLength="117.5" lengthAdjust="spacingAndGlyphs" >3.5</text>
<text x="1378" y="975" font-size="95.5" text-anchor="start" textLength="117.5" lengthAdjust="spacingAndGlyphs" >3.0</text>
<text x="1376.3" y="1272" font-size="95.5" text-anchor="start" textLength="117.5" lengthAdjust="spacingAndGlyphs" >2.5</text>
<text x="1377.8" y="1569" font-size="95.5" text-anchor="start" textLength="117.5" lengthAdjust="spacingAndGlyphs" >2.0</text>
<text x="1513.1" y="1674" font-size="95.5" text-anchor="start" textLength="78.3" lengthAdjust="spacingAndGlyphs" >-2</text>
<text x="1674" y="1674" font-size="95.5" text-anchor="start" textLength="75" lengthAdjust="spacingAndGlyphs" >-1</text>
<text x="1850.8" y="1674" font-size="95.5" text-anchor="start" textLength="47" lengthAdjust="spacingAndGlyphs" >0</text>
<text x="2017.9" y="1674" font-size="95.5" text-anchor="start" textLength="40" lengthAdjust="spacingAndGlyphs" >1</text>
<text x="2174.4" y="1674" font-size="95.5" text-anchor="start" textLength="51.2" lengthAdjust="spacingAndGlyphs" >2</text>
<text x="2339.8" y="1674" font-size="95.5" text-anchor="start" textLength="45" lengthAdjust="spacingAndGlyphs" >3</text>
</g>
<text x="405.6" y="158.6" font-size="160" text-anchor="start" textLength="75.1" lengthAdjust="spacingAndGlyphs" >a</text>
<text x="1571.9" y="154.6" font-size="163" text-anchor="start" >b</text>
<rect x="452" y="251" width="363" height="250" fill="#fff" stroke="#000" stroke-width="2"/>
<rect x="530" y="278" width="38" height="39" fill="#000"/>
<ellipse cx="549.2" cy="380.4" rx="19.2" ry="21.4" fill="#f00"/>
<polygon points="549.3,437.6 565.2,471.4 528.7,471.4" fill="#00f" stroke="#00f" stroke-width="5.0" stroke-linejoin="round"/>
<text x="636" y="319" font-size="69" text-anchor="start" textLength="166" lengthAdjust="spacingAndGlyphs" >293 K</text>
<text x="636" y="400.7" font-size="69" text-anchor="start" textLength="166" lengthAdjust="spacingAndGlyphs" >303 K</text>
<text x="636" y="480.6" font-size="69" text-anchor="start" textLength="166" lengthAdjust="spacingAndGlyphs" >313 K</text>
<rect x="1623.7" y="204.7" width="372" height="245.5" fill="#fff" stroke="#000" stroke-width="1.5"/>
<rect x="1709" y="230.8" width="35" height="39.2" fill="#000"/>
<ellipse cx="1726.5" cy="331.4" rx="21.7" ry="19.7" fill="#f00"/>
<polygon points="1725.1,386.6 1745.4,420.5 1707.6,420.5" fill="#00f" stroke="#00f" stroke-width="5.0" stroke-linejoin="round"/>
<text x="1811" y="273.3" font-size="69.5" text-anchor="start" >293 K</text>
<text x="1811" y="353.4" font-size="69.5" text-anchor="start" >303 K</text>
<text x="1811" y="433" font-size="69.5" text-anchor="start" >313 K</text>
<g>
<text x="646.5" y="1793" font-size="94" text-anchor="start" font-style="italic" >C</text>
<text x="710.1" y="1819" font-size="62" text-anchor="start" font-style="italic" >e</text>
<text x="736.2" y="1793" font-size="94" text-anchor="start" textLength="262.6" lengthAdjust="spacingAndGlyphs" >(mg/L)</text>
<text x="1917.2" y="1797" font-size="94" text-anchor="start" textLength="70.2" lengthAdjust="spacingAndGlyphs" >ln</text>
<text x="1986.5" y="1797.5" font-size="94" text-anchor="start" font-style="italic" >C</text>
<text x="2049.7" y="1823" font-size="62" text-anchor="start" font-style="italic" >e</text>
<text transform="translate(88,895.3) rotate(-90)" font-size="94" font-style="italic">C<tspan font-size="62" dy="26">e</tspan><tspan dy="-26">/q</tspan><tspan font-size="62" dy="26">e</tspan></text>
<text transform="translate(1339.9,872) rotate(-90)" font-size="94" textLength="70.2" lengthAdjust="spacingAndGlyphs">ln</text>
<text transform="translate(1339.9,802.3) rotate(-90)" font-size="94" font-style="italic">q<tspan font-size="62" dy="26">e</tspan></text>
</g>
</svg>
</body></html>
